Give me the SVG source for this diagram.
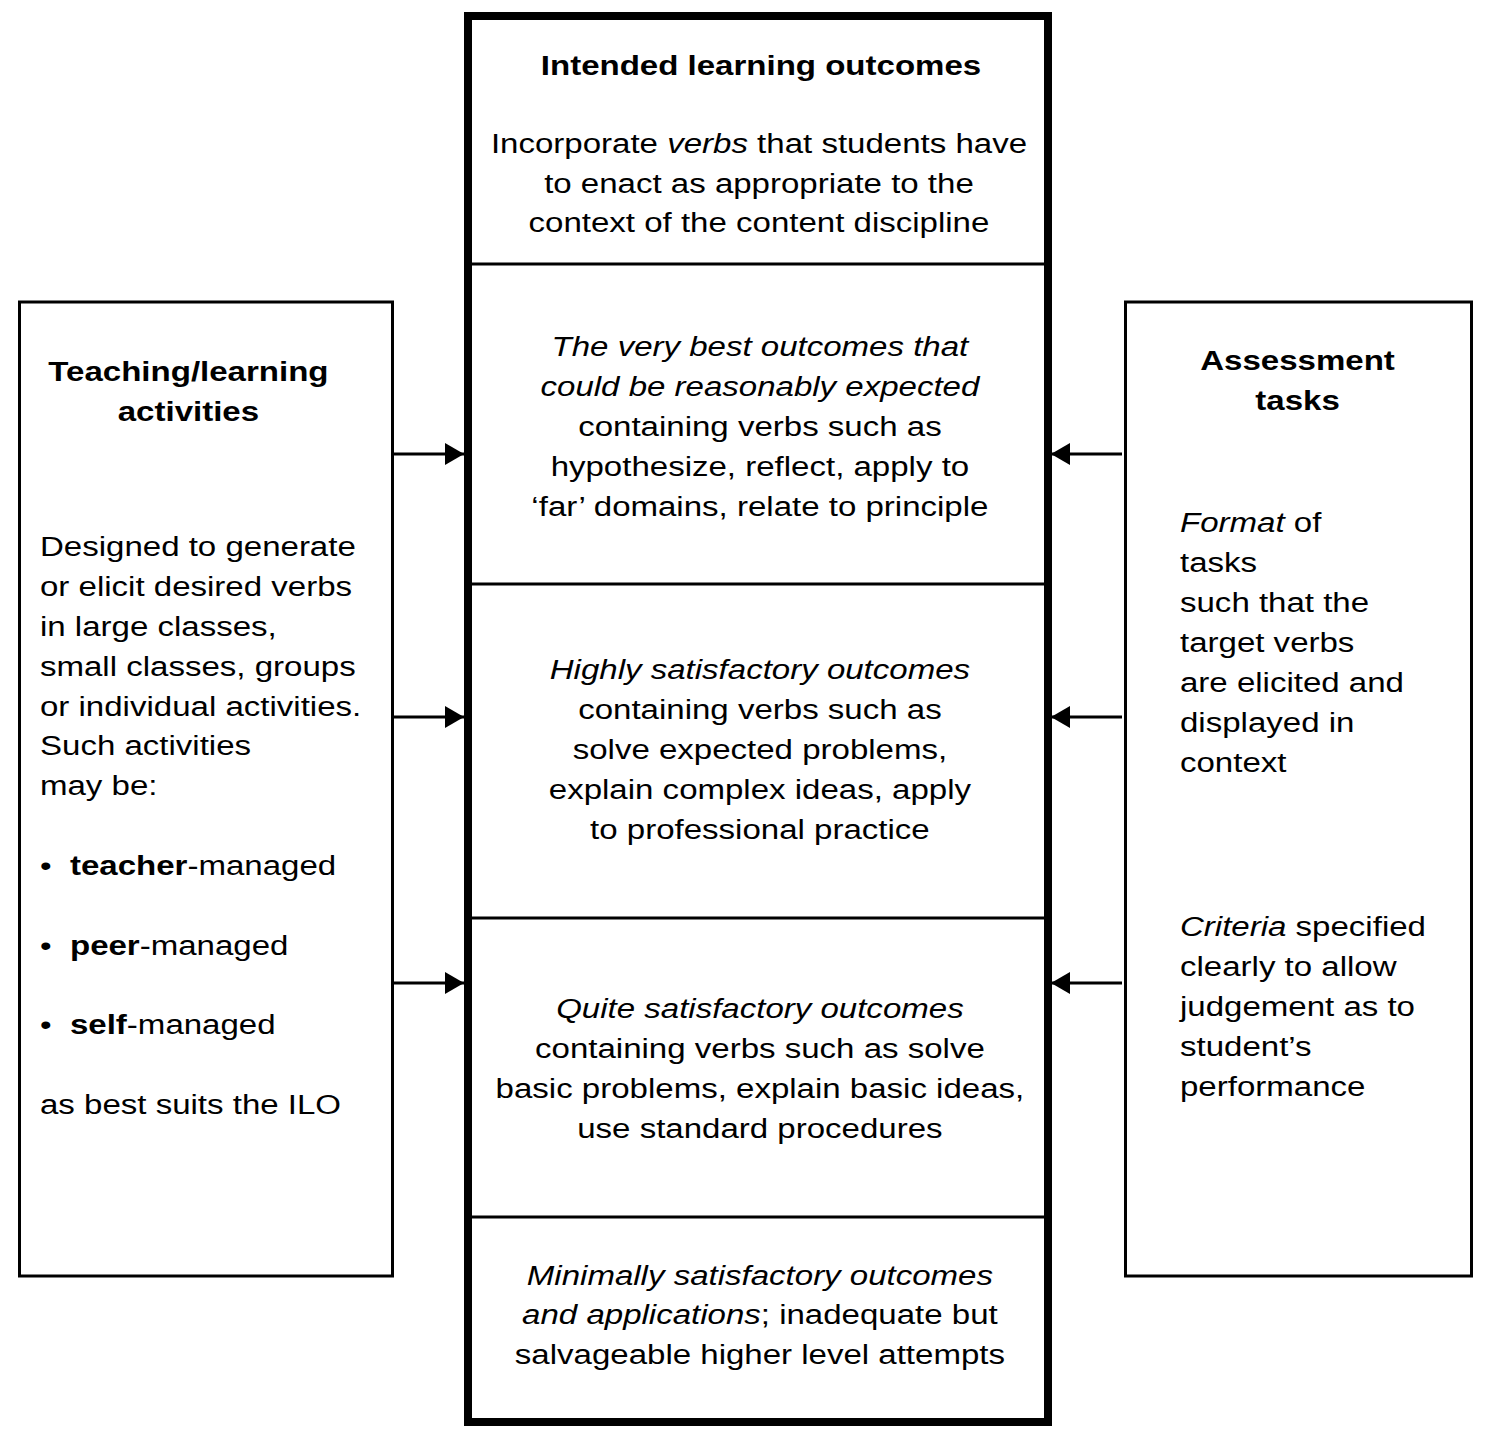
<svg xmlns="http://www.w3.org/2000/svg" width="1494" height="1442" viewBox="0 0 1494 1442">
<style>
text{font-family:"Liberation Sans",Arial,Helvetica,sans-serif;font-size:28px;fill:#000}
.c{text-anchor:middle}
.b{font-weight:bold}
.i{font-style:italic}
.box{fill:none;stroke:#000;stroke-width:3}
.div{stroke:#000;stroke-width:3}
.conn{stroke:#000;stroke-width:3;fill:none}
</style>
<defs>
<marker id="ah" markerWidth="20" markerHeight="22" refX="19" refY="11" orient="auto" markerUnits="userSpaceOnUse">
<path d="M0,0 L19,11 L0,22 Z" fill="#000"/>
</marker>
</defs>
<rect width="1494" height="1442" fill="#fff"/>

<g id="ilo">
<rect x="468" y="16" width="580" height="1406" fill="none" stroke="#000" stroke-width="8"/>
<line class="div" x1="472" y1="264" x2="1044" y2="264"/>
<line class="div" x1="472" y1="584" x2="1044" y2="584"/>
<line class="div" x1="472" y1="918" x2="1044" y2="918"/>
<line class="div" x1="472" y1="1217" x2="1044" y2="1217"/>
<g transform="scale(1.18 1)">
<text class="c b" x="644.9" y="75">Intended learning outcomes</text>
<text class="c" x="643.2" y="153">Incorporate <tspan class="i">verbs</tspan> that students have</text>
<text class="c" x="643.2" y="193">to enact as appropriate to the</text>
<text class="c" x="643.2" y="232">context of the content discipline</text>
</g>
</g>

<g id="best" transform="scale(1.18 1)">
<text class="c i" x="644" y="356">The very best outcomes that</text>
<text class="c i" x="644" y="396">could be reasonably expected</text>
<text class="c" x="644" y="436">containing verbs such as</text>
<text class="c" x="644" y="476">hypothesize, reflect, apply to</text>
<text class="c" x="644" y="516">‘far’ domains, relate to principle</text>
</g>

<g id="highly" transform="scale(1.18 1)">
<text class="c i" x="644" y="679">Highly satisfactory outcomes</text>
<text class="c" x="644" y="719">containing verbs such as</text>
<text class="c" x="644" y="759">solve expected problems,</text>
<text class="c" x="644" y="799">explain complex ideas, apply</text>
<text class="c" x="644" y="839">to professional practice</text>
</g>

<g id="quite" transform="scale(1.18 1)">
<text class="c i" x="644" y="1018">Quite satisfactory outcomes</text>
<text class="c" x="644" y="1058">containing verbs such as solve</text>
<text class="c" x="644" y="1098">basic problems, explain basic ideas,</text>
<text class="c" x="644" y="1138">use standard procedures</text>
</g>

<g id="minimal" transform="scale(1.18 1)">
<text class="c i" x="644" y="1285">Minimally satisfactory outcomes</text>
<text class="c" x="644" y="1324"><tspan class="i">and applications</tspan>; inadequate but</text>
<text class="c" x="644" y="1364">salvageable higher level attempts</text>
</g>

<g id="tla">
<rect class="box" x="19.5" y="302" width="373" height="974"/>
<g transform="scale(1.18 1)">
<text class="c b" x="159.7" y="381">Teaching/learning</text>
<text class="c b" x="159.7" y="421">activities</text>
<text x="33.9" y="556">Designed to generate</text>
<text x="33.9" y="596">or elicit desired verbs</text>
<text x="33.9" y="636">in large classes,</text>
<text x="33.9" y="676">small classes, groups</text>
<text x="33.9" y="716">or individual activities.</text>
<text x="33.9" y="755">Such activities</text>
<text x="33.9" y="795">may be:</text>
<text x="33.9" y="875">•</text><text x="59.3" y="875"><tspan class="b">teacher</tspan>-managed</text>
<text x="33.9" y="955">•</text><text x="59.3" y="955"><tspan class="b">peer</tspan>-managed</text>
<text x="33.9" y="1034">•</text><text x="59.3" y="1034"><tspan class="b">self</tspan>-managed</text>
<text x="33.9" y="1114">as best suits the ILO</text>
</g>
</g>

<g id="at">
<rect class="box" x="1125.5" y="302" width="346" height="974"/>
<g transform="scale(1.18 1)">
<text class="c b" x="1099.6" y="370">Assessment</text>
<text class="c b" x="1099.6" y="410">tasks</text>
<text x="1000" y="532"><tspan class="i">Format</tspan> of</text>
<text x="1000" y="572">tasks</text>
<text x="1000" y="612">such that the</text>
<text x="1000" y="652">target verbs</text>
<text x="1000" y="692">are elicited and</text>
<text x="1000" y="732">displayed in</text>
<text x="1000" y="772">context</text>
<text x="1000" y="936"><tspan class="i">Criteria</tspan> specified</text>
<text x="1000" y="976">clearly to allow</text>
<text x="1000" y="1016">judgement as to</text>
<text x="1000" y="1056">student’s</text>
<text x="1000" y="1096">performance</text>
</g>
</g>

<g id="connectors">
<line class="conn" x1="393" y1="454" x2="464" y2="454" marker-end="url(#ah)"/>
<line class="conn" x1="393" y1="717" x2="464" y2="717" marker-end="url(#ah)"/>
<line class="conn" x1="393" y1="983" x2="464" y2="983" marker-end="url(#ah)"/>
<line class="conn" x1="1122" y1="454" x2="1051" y2="454" marker-end="url(#ah)"/>
<line class="conn" x1="1122" y1="717" x2="1051" y2="717" marker-end="url(#ah)"/>
<line class="conn" x1="1122" y1="983" x2="1051" y2="983" marker-end="url(#ah)"/>
</g>
</svg>
